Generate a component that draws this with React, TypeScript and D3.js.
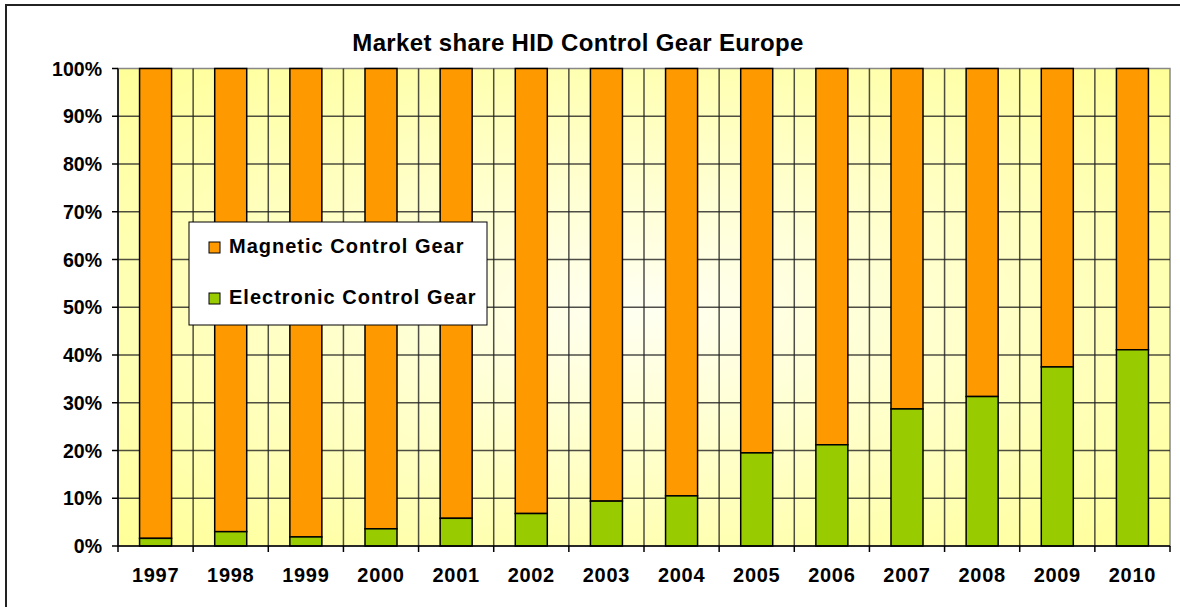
import { scaleBand, scaleLinear } from "d3";

const years = ["1997", "1998", "1999", "2000", "2001", "2002", "2003", "2004", "2005", "2006", "2007", "2008", "2009", "2010"];
const electronic = [1.6, 3.0, 1.9, 3.6, 5.8, 6.8, 9.4, 10.5, 19.5, 21.2, 28.7, 31.3, 37.5, 41.1];
const magnetic = electronic.map((e) => 100 - e);
const yTicks = [0, 10, 20, 30, 40, 50, 60, 70, 80, 90, 100];

const ORANGE = "#FF9900";
const GREEN = "#99CC00";
const FONT = "'Liberation Sans', Arial, sans-serif";

export default function App() {
  const margin = { top: 68.5, right: 10, bottom: 61, left: 118 };
  const W = 1180;
  const H = 607;
  const x0 = margin.left;
  const x1 = W - margin.right;
  const y0 = H - margin.bottom;
  const y1 = margin.top;

  const x = scaleBand<string>()
    .domain(years)
    .range([x0, x1])
    .paddingInner(0.574)
    .paddingOuter(0.287);
  const y = scaleLinear().domain([0, 100]).range([y0, y1]);
  const step = (x1 - x0) / years.length;
  const bounds = years.map((_, i) => x0 + i * step).concat([x1]);

  return (
    <svg width={W} height={H} style={{ position: "absolute", left: 0, top: 0 }} fontFamily={FONT}>
      <defs>
        <radialGradient id="bg" cx="50%" cy="50%" r="70%">
          <stop offset="0%" stopColor="#FFFFF2" />
          <stop offset="100%" stopColor="#FFFF99" />
        </radialGradient>
      </defs>
      <rect x={0} y={0} width={W} height={H} fill="#fff" />
      <rect x={6} y={5} width={W + 20} height={H + 20} fill="#fff" stroke="#222" strokeWidth={2} />

      <text x={578} y={51} textAnchor="middle" fontSize={24} fontWeight="bold" letterSpacing={0.35} fill="#000">
        Market share HID Control Gear Europe
      </text>

      {/* plot area */}
      <rect x={x0} y={y1} width={x1 - x0} height={y0 - y1} fill="url(#bg)" stroke="#888" strokeWidth={1.5} />

      {/* gridlines */}
      {yTicks.slice(1, -1).map((t) => (
        <line key={"h" + t} x1={x0} x2={x1} y1={y(t)} y2={y(t)} stroke="#222" strokeOpacity={0.8} strokeWidth={1.5} />
      ))}
      {bounds.slice(1, -1).map((b, i) => (
        <line key={"v" + i} x1={b} x2={b} y1={y1} y2={y0} stroke="#222" strokeOpacity={0.8} strokeWidth={1.5} />
      ))}

      {/* bars */}
      {years.map((yr, i) => (
        <g key={yr} stroke="#000" strokeWidth={1.5}>
          <rect x={x(yr)} y={y(electronic[i] + magnetic[i])} width={x.bandwidth()} height={y(electronic[i]) - y(electronic[i] + magnetic[i])} fill={ORANGE} />
          <rect x={x(yr)} y={y(electronic[i])} width={x.bandwidth()} height={y0 - y(electronic[i])} fill={GREEN} />
        </g>
      ))}

      {/* axes */}
      <line x1={x0} x2={x0} y1={y1} y2={y0} stroke="#000" strokeWidth={1.5} />
      <line x1={x0} x2={x1} y1={y0} y2={y0} stroke="#000" strokeWidth={1.5} />
      {yTicks.map((t) => (
        <g key={"yt" + t}>
          <line x1={x0 - 6} x2={x0} y1={y(t)} y2={y(t)} stroke="#000" strokeWidth={1.5} />
          <text x={102} y={y(t) + 7} textAnchor="end" fontSize={19.5} fontWeight="bold" fill="#000">
            {t}%
          </text>
        </g>
      ))}
      {bounds.map((b, i) => (
        <line key={"xt" + i} x1={b} x2={b} y1={y0} y2={y0 + 6} stroke="#000" strokeWidth={1.5} />
      ))}
      {years.map((yr) => (
        <text key={"xl" + yr} x={(x(yr) as number) + x.bandwidth() / 2} y={582} textAnchor="middle" fontSize={20} fontWeight="bold" letterSpacing={0.7} fill="#000">
          {yr}
        </text>
      ))}

      {/* legend */}
      <rect x={189} y={222} width={298} height={103} fill="#fff" stroke="#000" strokeWidth={1} />
      <rect x={209} y={242} width={11} height={11} fill={ORANGE} stroke="#000" strokeWidth={1} />
      <text x={229} y={253} fontSize={20} fontWeight="bold" letterSpacing={1} fill="#000">
        Magnetic Control Gear
      </text>
      <rect x={209} y={293} width={11} height={11} fill={GREEN} stroke="#000" strokeWidth={1} />
      <text x={229} y={304} fontSize={20} fontWeight="bold" letterSpacing={1} fill="#000">
        Electronic Control Gear
      </text>
    </svg>
  );
}
